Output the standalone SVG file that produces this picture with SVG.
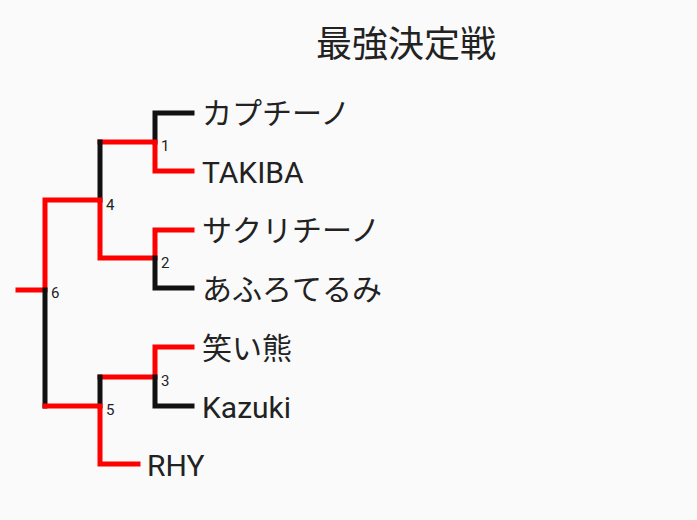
<svg xmlns="http://www.w3.org/2000/svg" width="697" height="520" viewBox="0 0 697 520">
<style>
.b{stroke:#111;stroke-width:5;fill:none;stroke-linecap:square}
.r{stroke:#f00;stroke-width:5;fill:none;stroke-linecap:square}
.n{font-family:"Roboto","Noto Sans CJK JP",sans-serif;font-size:30px;fill:#222}
.m{font-family:"Roboto",sans-serif;font-size:15px;fill:#222}
</style>
<rect width="697" height="520" fill="#fafafa"/>
<text x="406" y="57" text-anchor="middle" font-family="Roboto,'Noto Sans CJK JP',sans-serif" font-size="36" fill="#222">最強決定戦</text>
<g id="connectors">
<path class="b" d="M192,113H155V142"/>
<path class="r" d="M192,171H155V142H100"/>
<path class="b" d="M100,142V200"/>
<path class="r" d="M192,230H155V258H100V200H45V290H18"/>
<path class="b" d="M192,288H155V258"/>
<path class="b" d="M45,290V406"/>
<path class="r" d="M192,347H155V377H100"/>
<path class="b" d="M192,406H155V377"/>
<path class="b" d="M100,377V406"/>
<path class="r" d="M138,464H100V406H45"/>
</g>
<g id="m1"><text class="m" x="161" y="151">1</text></g>
<g id="m2"><text class="m" x="161" y="268">2</text></g>
<g id="m3"><text class="m" x="161" y="386">3</text></g>
<g id="m4"><text class="m" x="106" y="210">4</text></g>
<g id="m5"><text class="m" x="106" y="415">5</text></g>
<g id="m6"><text class="m" x="51" y="298">6</text></g>
<g id="p1"><text class="n" x="202" y="124">カプチーノ</text></g>
<g id="p2"><text class="n" x="202" y="183">TAKIBA</text></g>
<g id="p3"><text class="n" x="202" y="241">サクリチーノ</text></g>
<g id="p4"><text class="n" x="202" y="300">あふろてるみ</text></g>
<g id="p5"><text class="n" x="202" y="359">笑い熊</text></g>
<g id="p6"><text class="n" x="202" y="418">Kazuki</text></g>
<g id="p7"><text class="n" x="147" y="476">RHY</text></g>
</svg>
